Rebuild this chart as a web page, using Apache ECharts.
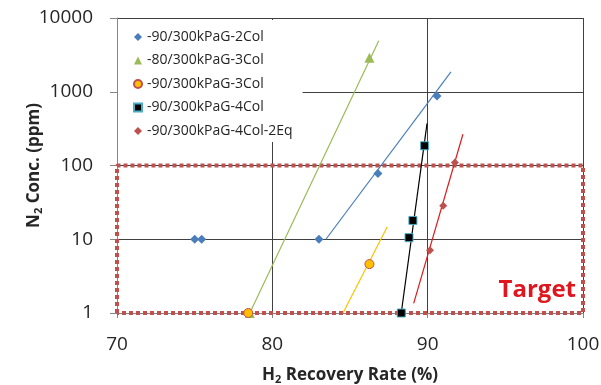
<!DOCTYPE html>
<html>
<head>
<meta charset="utf-8">
<script src="https://cdn.jsdelivr.net/npm/echarts@6/dist/echarts.min.js"></script>
<style>html,body{margin:0;padding:0;background:#fff;}#c{width:601px;height:385px;}</style>
</head>
<body>
<div id="c"></div>
<script>
// ---- data ----
const seriesNames = ['-90/300kPaG-2Col', '-80/300kPaG-3Col', '-90/300kPaG-3Col', '-90/300kPaG-4Col', '-90/300kPaG-4Col-2Eq'];
const xTicks = [70, 80, 90, 100];
const yTicks = [1, 10, 100, 1000, 10000];

const x2Col = [75.0, 75.45, 83.0, 86.8, 90.6];
const y2Col = [10, 10, 10, 78, 875];
const x80_3Col = [78.55, 86.25];
const y80_3Col = [1, 2900];
const x90_3Col = [78.45, 86.25];
const y90_3Col = [1, 4.6];
const x4Col = [88.3, 88.8, 89.05, 89.8];
const y4Col = [1, 10.5, 18, 185];
const x4Col2Eq = [90.15, 91.0, 91.75];
const y4Col2Eq = [7.1, 28.5, 110];

// trend lines (end points)
const xTrend2Col = [83.45, 91.5];
const yTrend2Col = [10, 1860];
const xTrend80_3Col = [78.55, 86.85];
const yTrend80_3Col = [1, 4900];
const xTrend90_3Col = [84.55, 87.4];
const yTrend90_3Col = [1, 14.8];
const xTrend4Col = [88.3, 89.96];
const yTrend4Col = [1, 372];
const xTrend4Col2Eq = [89.1, 92.27];
const yTrend4Col2Eq = [1.35, 265];

// target region
const xTarget = [70, 70, 100, 100, 70];
const yTarget = [1, 100, 100, 1, 1];
const targetLabel = 'Target';

const pts = (xs, ys) => xs.map((x, i) => [x, ys[i]]);
const FF = '"Open Sans", sans-serif';

const chart = echarts.init(document.getElementById('c'), null, {renderer: 'canvas'});

function trend(xs, ys, color) {
  return {
    type: 'line', data: pts(xs, ys), showSymbol: false, symbol: 'none',
    lineStyle: {color: color, width: 1.2}, z: 3, silent: true, animation: false
  };
}

const option = {
  animation: false,
  grid: {left: 117, right: 18, top: 18, bottom: 72, containLabel: false, outerBoundsMode: 'none'},
  legend: {
    data: seriesNames,
    orient: 'vertical',
    left: 118, top: 20,
    padding: [9, 10, 3, 15],
    itemGap: 7.5,
    itemWidth: 8, itemHeight: 8,
    backgroundColor: '#ffffff',
    textStyle: {fontSize: 14, color: '#262626', fontFamily: FF, lineHeight: 16}
  },
  xAxis: {
    type: 'value', min: 70, max: 100, interval: 10,
    axisLine: {show: true, lineStyle: {color: '#868686'}},
    axisTick: {show: true, length: 5, lineStyle: {color: '#868686'}},
    axisLabel: {fontSize: 19, color: '#262626', fontFamily: FF, margin: 22,
      formatter: v => xTicks.includes(v) ? String(v) : ''},
    splitLine: {show: true, lineStyle: {color: '#404040', width: 1}},
    name: '{b|H}{s|2}{b| Recovery Rate (%)}',
    nameLocation: 'middle', nameGap: 53, nameMoveOverlap: false,
    nameTextStyle: {
      rich: {
        b: {fontSize: 17, fontWeight: 'bold', color: '#262626', fontFamily: FF},
        s: {fontSize: 11, fontWeight: 'bold', color: '#262626', fontFamily: FF, padding: [8, 0, 0, 0]}
      }
    }
  },
  yAxis: {
    type: 'log', logBase: 10, min: 1, max: 10000,
    axisLine: {show: true, lineStyle: {color: '#868686'}},
    axisTick: {show: true, length: 7, lineStyle: {color: '#868686'}},
    axisLabel: {fontSize: 19, color: '#262626', fontFamily: FF, margin: 24,
      formatter: v => yTicks.includes(Math.round(v)) ? String(Math.round(v)) : ''},
    splitLine: {show: true, lineStyle: {color: '#404040', width: 1}},
    minorTick: {show: false},
    name: '{b|N}{s|2}{b| Conc. (ppm)}',
    nameLocation: 'middle', nameGap: 73, nameRotate: 90, nameMoveOverlap: false,
    nameTextStyle: {
      rich: {
        b: {fontSize: 17, fontWeight: 'bold', color: '#262626', fontFamily: FF},
        s: {fontSize: 11, fontWeight: 'bold', color: '#262626', fontFamily: FF, padding: [8, 0, 0, 0]}
      }
    }
  },
  series: [
    {
      name: 'target', type: 'line', data: pts(xTarget, yTarget), showSymbol: false, symbol: 'none',
      lineStyle: {color: '#c0504d', width: 4, type: [4, 3]}, z: 1, silent: true, clip: false
    },
    trend(xTrend2Col, yTrend2Col, '#4a7ebb'),
    trend(xTrend80_3Col, yTrend80_3Col, '#9bbb59'),
    trend(xTrend90_3Col, yTrend90_3Col, '#ffc000'),
    trend(xTrend4Col, yTrend4Col, '#000000'),
    trend(xTrend4Col2Eq, yTrend4Col2Eq, '#dd1c1c'),
    {name: seriesNames[0], type: 'scatter', data: pts(x2Col, y2Col), symbol: 'diamond', symbolSize: 9,
      itemStyle: {color: '#4a7ebb', opacity: 1}, z: 4},
    {name: seriesNames[1], type: 'scatter', data: pts(x80_3Col, y80_3Col), symbol: 'triangle', symbolSize: 10,
      itemStyle: {color: '#9bbb59', opacity: 1}, z: 4},
    {name: seriesNames[2], type: 'scatter', data: pts(x90_3Col, y90_3Col), symbol: 'circle', symbolSize: 9,
      itemStyle: {color: '#ffc000', borderColor: '#c0504d', borderWidth: 1, opacity: 1}, z: 4},
    {name: seriesNames[3], type: 'scatter', data: pts(x4Col, y4Col), symbol: 'rect', symbolSize: 8,
      itemStyle: {color: '#000000', borderColor: '#4bacc6', borderWidth: 1, opacity: 1}, z: 4},
    {name: seriesNames[4], type: 'scatter', data: pts(x4Col2Eq, y4Col2Eq), symbol: 'diamond', symbolSize: 8,
      itemStyle: {color: '#c0504d', opacity: 1}, z: 4}
  ],
  graphic: [{
    type: 'text', right: 25, top: 278, z: 10,
    style: {text: targetLabel, fontSize: 24, fontWeight: 'bold', fill: '#e0161e', fontFamily: FF}
  }]
};
chart.setOption(option);
</script>
</body>
</html>
